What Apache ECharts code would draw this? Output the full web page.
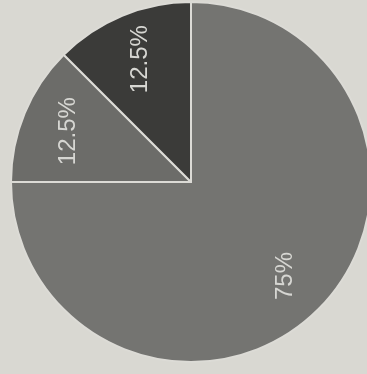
<!DOCTYPE html>
<html>
<head>
<meta charset="utf-8">
<script src="https://cdn.jsdelivr.net/npm/echarts@6/dist/echarts.min.js"></script>
<style>
html, body { margin: 0; padding: 0; background: #d9d8d2; }
#chart { width: 367px; height: 374px; }
</style>
</head>
<body>
<div id="chart"></div>
<script>
// 扇区数据（从12点方向顺时针）
var sliceNames = ['A', 'B', 'C'];
var sliceValues = [75, 12.5, 12.5];
var sliceColors = ['#747471', '#6c6c69', '#3b3b39'];

var chart = echarts.init(document.getElementById('chart'));

var pieData = [];
var labelData = [];
for (var i = 0; i < sliceValues.length; i++) {
    pieData.push({
        name: sliceNames[i],
        value: sliceValues[i],
        itemStyle: { color: sliceColors[i] }
    });
    labelData.push({ name: sliceNames[i], value: sliceValues[i] });
}

var option = {
    backgroundColor: '#d9d8d2',
    animation: false,
    series: [{
        type: 'pie',
        center: [191, 182],
        radius: 180,
        startAngle: 90,
        clockwise: true,
        silent: true,
        label: { show: false },
        labelLine: { show: false },
        itemStyle: {
            borderColor: '#dcdbd6',
            borderWidth: 2
        },
        data: pieData
    }, {
        // 透明环，只用来把标签放到约0.7半径处
        type: 'pie',
        center: [191, 182],
        radius: [80, 180],
        startAngle: 90,
        clockwise: true,
        silent: true,
        itemStyle: { color: 'rgba(0,0,0,0)' },
        label: {
            show: true,
            position: 'inside',
            rotate: 90,
            color: '#d6d6d2',
            fontSize: 24,
            fontFamily: 'Liberation Sans, Arial, sans-serif',
            formatter: function (p) {
                return p.value + '%';
            }
        },
        labelLine: { show: false },
        data: labelData
    }]
};

chart.setOption(option);
window.addEventListener('resize', chart.resize);
</script>
</body>
</html>
